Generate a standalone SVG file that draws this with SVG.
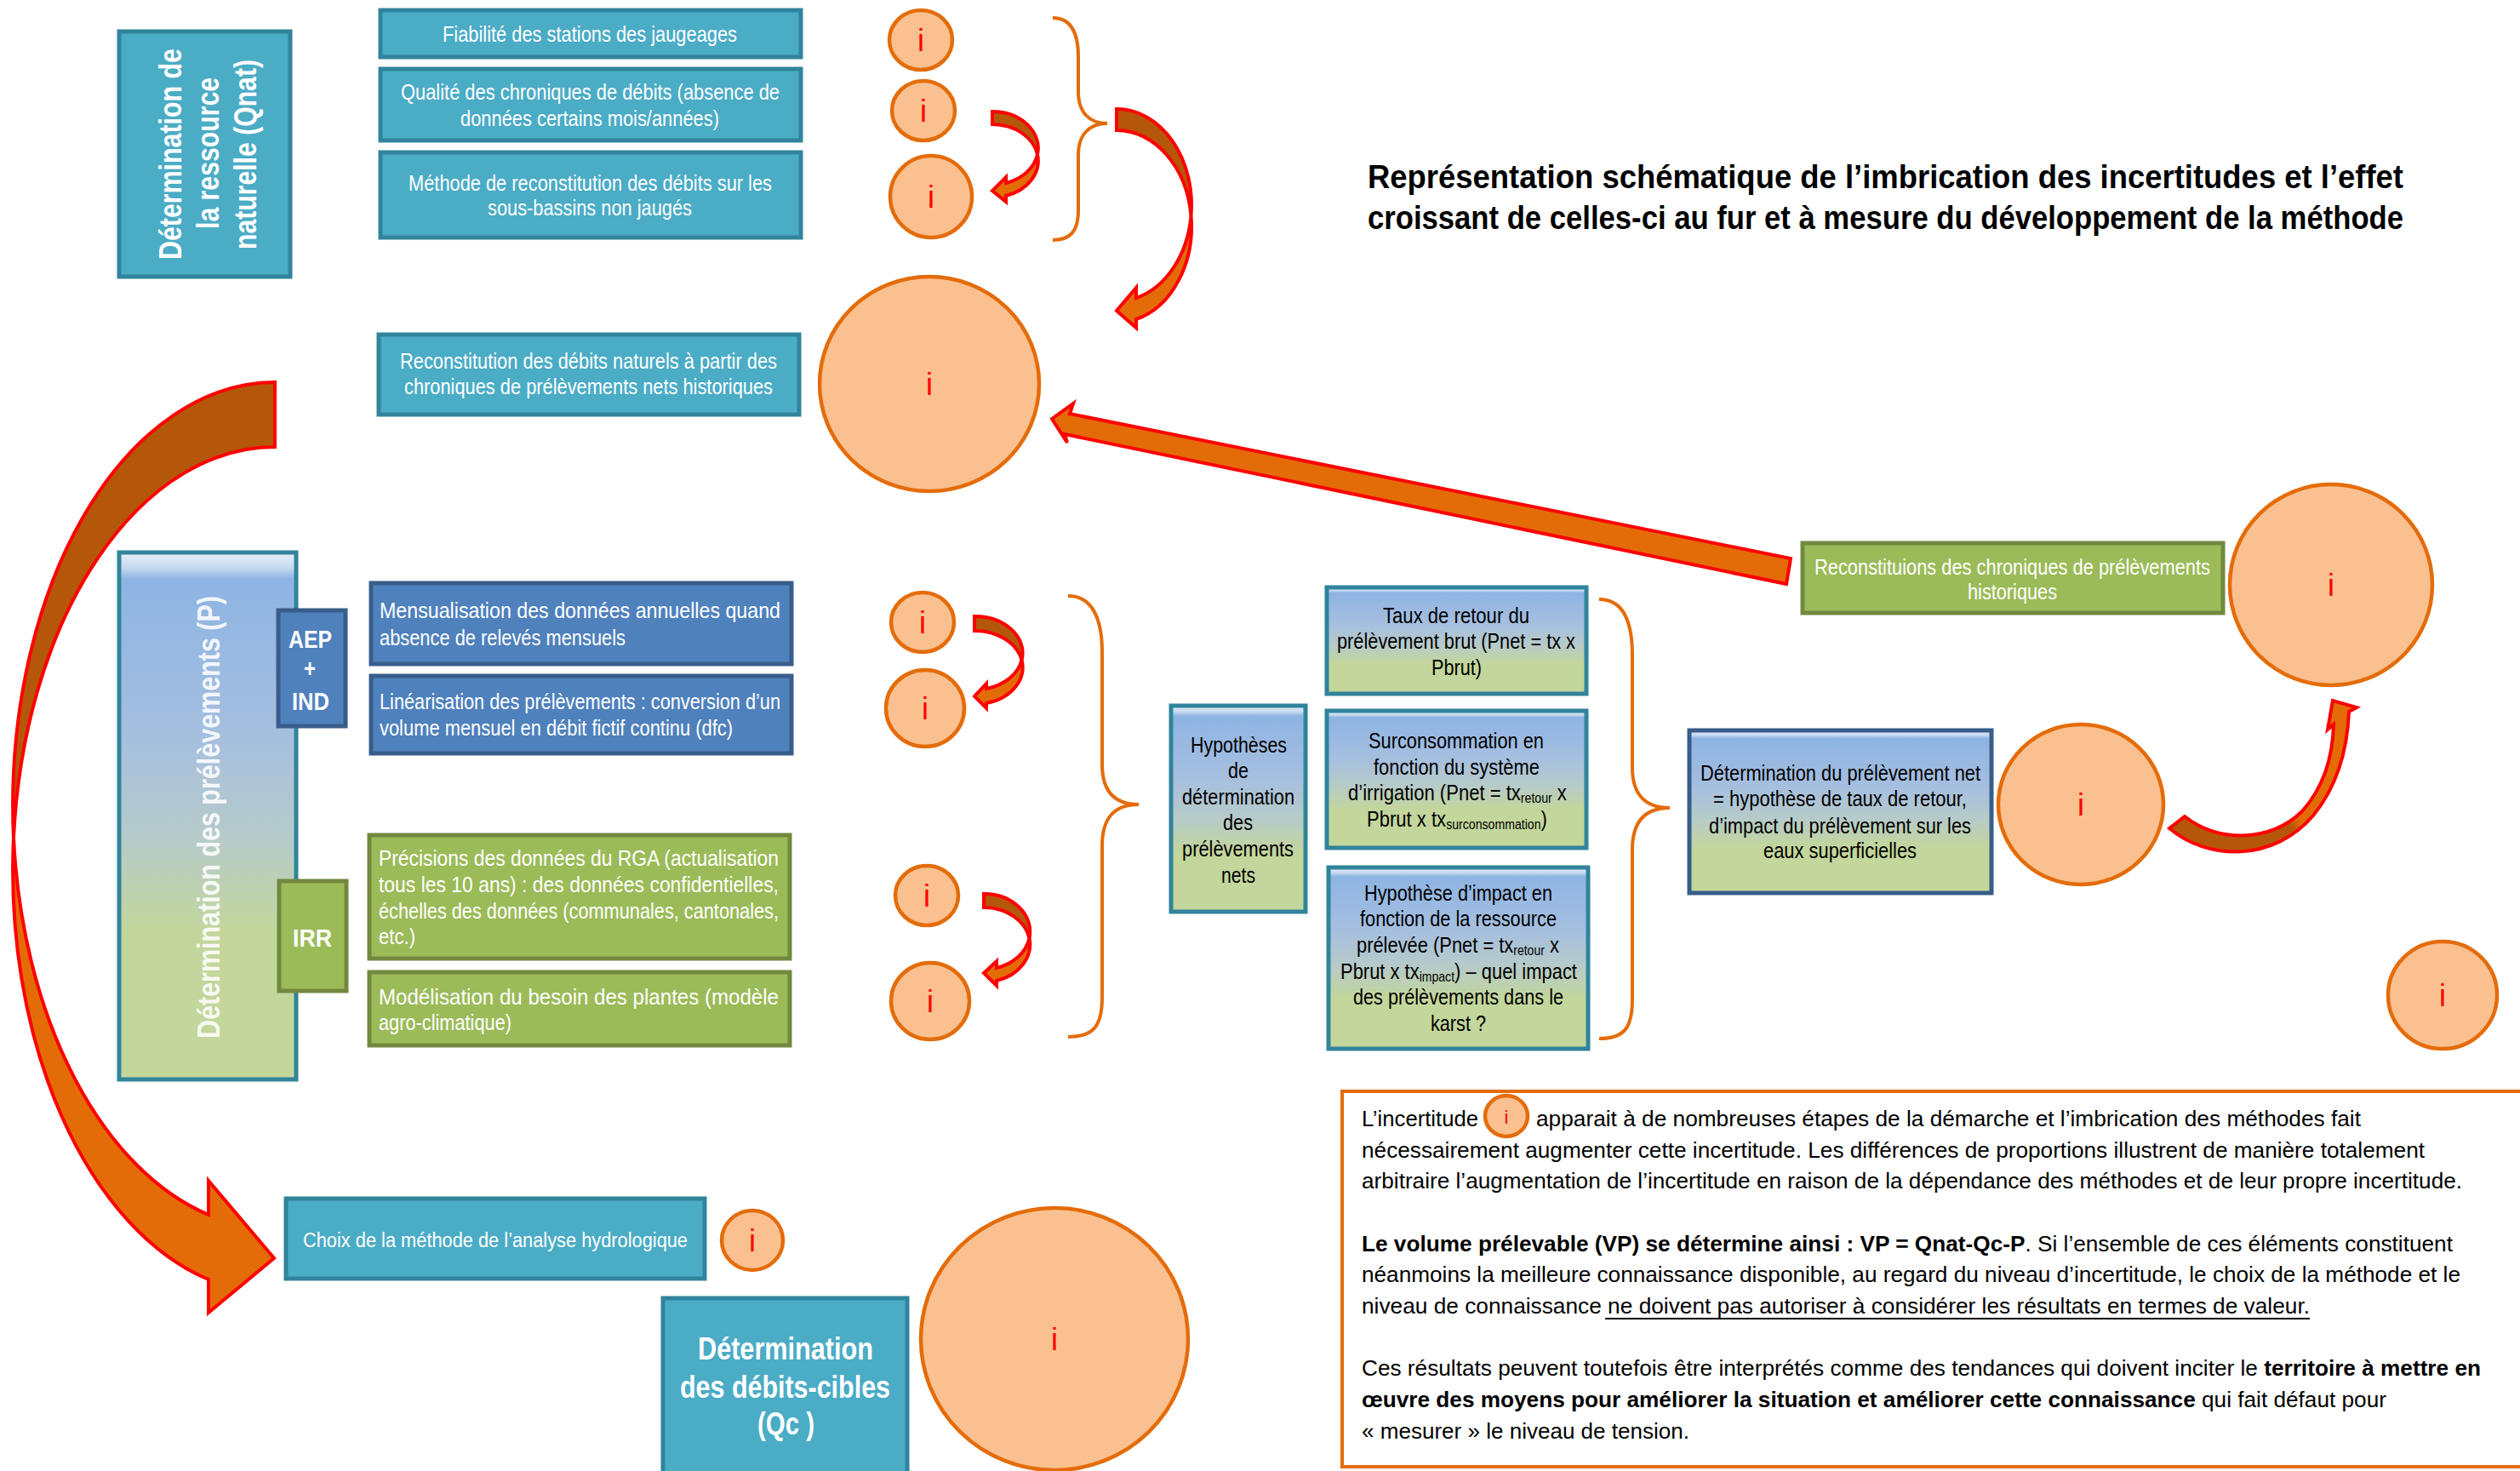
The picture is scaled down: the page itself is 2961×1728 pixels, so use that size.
<svg xmlns="http://www.w3.org/2000/svg" width="2961" height="1728" viewBox="0 0 2961 1728">
<style>
.t{font-family:"Liberation Sans",Arial,sans-serif}
.w{fill:#FFFFFF}
.k{fill:#000000}
.b{font-weight:bold}
.f26{font-size:26px}
.f25{font-size:25px}
.teal{fill:#4BACC6;stroke:#31849B;stroke-width:5}
.blue{fill:#4F81BD;stroke:#385D8A;stroke-width:5}
.green{fill:#9BBB59;stroke:#71893F;stroke-width:5}
.grad{fill:url(#gBG);stroke:#31849B;stroke-width:5}
.gradb{fill:url(#gBG);stroke:#385D8A;stroke-width:5}
.ci{fill:#FAC090;stroke:#E46C0A;stroke-width:4.5}
.ii{font-family:"Liberation Sans",Arial,sans-serif;font-size:36px;fill:#FF0000;text-anchor:middle}
.br{fill:none;stroke:#E46C0A;stroke-width:4}
.ar{stroke:#FF0000;stroke-width:4;stroke-linejoin:miter}
.brn{fill:#B5570A}
.org{fill:#E36C09}
.sub{font-size:16px}
</style>
<defs>
<linearGradient id="gBG" x1="0" y1="0" x2="0" y2="1">
<stop offset="0" stop-color="#E9F0F9"/>
<stop offset="0.03" stop-color="#C5D8F0"/>
<stop offset="0.05" stop-color="#8EB4E3"/>
<stop offset="0.35" stop-color="#A6BFDF"/>
<stop offset="0.55" stop-color="#B7CBC8"/>
<stop offset="0.72" stop-color="#C3D69B"/>
<stop offset="1" stop-color="#C3D69B"/>
</linearGradient>
<linearGradient id="gRA" gradientUnits="userSpaceOnUse" x1="2560" y1="990" x2="2750" y2="850">
<stop offset="0.5" stop-color="#B5570A"/>
<stop offset="0.55" stop-color="#E36C09"/>
</linearGradient>
</defs>
<rect width="2961" height="1728" fill="#FFFFFF"/>

<g id="title" class="t b k" font-size="38">
<text x="1607" y="221" textLength="1217" lengthAdjust="spacingAndGlyphs">Représentation schématique de l’imbrication des incertitudes et l’effet</text>
<text x="1607" y="269" textLength="1217" lengthAdjust="spacingAndGlyphs">croissant de celles-ci au fur et à mesure du développement de la méthode</text>
</g>

<g id="qnat">
<rect class="teal" x="140" y="37" width="201" height="288"/>
<g class="t b w" font-size="37">
<text transform="translate(213,181) rotate(-90)" x="-124" y="0" textLength="248" lengthAdjust="spacingAndGlyphs">Détermination de</text>
<text transform="translate(257,180) rotate(-90)" x="-89" y="0" textLength="178" lengthAdjust="spacingAndGlyphs">la ressource</text>
<text transform="translate(301,181.5) rotate(-90)" x="-111.5" y="0" textLength="223" lengthAdjust="spacingAndGlyphs">naturelle (Qnat)</text>
</g>
</g>

<g id="fiabilite">
<rect class="teal" x="447" y="12" width="494" height="55"/>
<text class="t w f25" x="520" y="49" textLength="346" lengthAdjust="spacingAndGlyphs">Fiabilité des stations des jaugeages</text>
</g>
<g id="qualite">
<rect class="teal" x="447" y="81" width="494" height="84"/>
<text class="t w f25" x="471" y="117" textLength="445" lengthAdjust="spacingAndGlyphs">Qualité des chroniques de débits (absence de</text>
<text class="t w f25" x="541" y="148" textLength="304" lengthAdjust="spacingAndGlyphs">données certains mois/années)</text>
</g>
<g id="methode">
<rect class="teal" x="447" y="179" width="494" height="100"/>
<text class="t w f25" x="480" y="224" textLength="427" lengthAdjust="spacingAndGlyphs">Méthode de reconstitution des débits sur les</text>
<text class="t w f25" x="573" y="253" textLength="240" lengthAdjust="spacingAndGlyphs">sous-bassins non jaugés</text>
</g>
<g id="reconstitution">
<rect class="teal" x="445" y="393" width="494" height="94"/>
<text class="t w f25" x="470" y="433" textLength="443" lengthAdjust="spacingAndGlyphs">Reconstitution des débits naturels à partir des</text>
<text class="t w f25" x="475" y="463" textLength="433" lengthAdjust="spacingAndGlyphs">chroniques de prélèvements nets historiques</text>
</g>

<g id="prelevements">
<rect class="grad" x="140" y="649" width="208" height="619"/>
<text class="t b w" font-size="37" fill-opacity="0.9" transform="translate(258,960) rotate(-90)" x="-260" y="0" textLength="520" lengthAdjust="spacingAndGlyphs">Détermination des prélèvements (P)</text>
</g>
<g id="aep">
<rect class="blue" x="327" y="717" width="79" height="136"/>
<g class="t b w" font-size="29">
<text x="339" y="761" textLength="51" lengthAdjust="spacingAndGlyphs">AEP</text>
<text x="357" y="795" textLength="14" lengthAdjust="spacingAndGlyphs">+</text>
<text x="343" y="834" textLength="44" lengthAdjust="spacingAndGlyphs">IND</text>
</g>
</g>
<g id="irr">
<rect class="green" x="328" y="1035" width="79" height="129"/>
<text class="t b w" font-size="29" x="344" y="1112" textLength="46" lengthAdjust="spacingAndGlyphs">IRR</text>
</g>
<g id="mensualisation">
<rect class="blue" x="436" y="685" width="494" height="95"/>
<text class="t w f25" x="446" y="726" textLength="471" lengthAdjust="spacingAndGlyphs">Mensualisation des données annuelles quand</text>
<text class="t w f25" x="446" y="758" textLength="289" lengthAdjust="spacingAndGlyphs">absence de relevés mensuels</text>
</g>
<g id="linearisation">
<rect class="blue" x="436" y="794" width="494" height="91"/>
<text class="t w f25" x="446" y="833" textLength="471" lengthAdjust="spacingAndGlyphs">Linéarisation des prélèvements : conversion d’un</text>
<text class="t w f25" x="446" y="864" textLength="415" lengthAdjust="spacingAndGlyphs">volume mensuel en débit fictif continu (dfc)</text>
</g>
<g id="precisions">
<rect class="green" x="434" y="981" width="494" height="145"/>
<text class="t w f25" x="445" y="1017" textLength="470" lengthAdjust="spacingAndGlyphs">Précisions des données du RGA (actualisation</text>
<text class="t w f25" x="445" y="1048" textLength="470" lengthAdjust="spacingAndGlyphs">tous les 10 ans) : des données confidentielles,</text>
<text class="t w f25" x="445" y="1079" textLength="470" lengthAdjust="spacingAndGlyphs">échelles des données (communales, cantonales,</text>
<text class="t w f25" x="445" y="1109" textLength="43" lengthAdjust="spacingAndGlyphs">etc.)</text>
</g>
<g id="modelisation">
<rect class="green" x="434" y="1142" width="494" height="86"/>
<text class="t w f25" x="445" y="1180" textLength="470" lengthAdjust="spacingAndGlyphs">Modélisation du besoin des plantes (modèle</text>
<text class="t w f25" x="445" y="1210" textLength="156" lengthAdjust="spacingAndGlyphs">agro-climatique)</text>
</g>

<g id="hypotheses">
<rect class="grad" x="1376" y="829" width="158" height="242"/>
<g class="t k f25">
<text x="1399" y="884" textLength="113" lengthAdjust="spacingAndGlyphs">Hypothèses</text>
<text x="1443" y="914" textLength="24" lengthAdjust="spacingAndGlyphs">de</text>
<text x="1389" y="945" textLength="132" lengthAdjust="spacingAndGlyphs">détermination</text>
<text x="1437" y="975" textLength="35" lengthAdjust="spacingAndGlyphs">des</text>
<text x="1389" y="1006" textLength="131" lengthAdjust="spacingAndGlyphs">prélèvements</text>
<text x="1435" y="1037" textLength="40" lengthAdjust="spacingAndGlyphs">nets</text>
</g>
</g>
<g id="taux">
<rect class="grad" x="1559" y="690" width="305" height="125"/>
<g class="t k f25">
<text x="1625" y="732" textLength="172" lengthAdjust="spacingAndGlyphs">Taux de retour du</text>
<text x="1571" y="762" textLength="280" lengthAdjust="spacingAndGlyphs">prélèvement brut (Pnet = tx x</text>
<text x="1682" y="793" textLength="59" lengthAdjust="spacingAndGlyphs">Pbrut)</text>
</g>
</g>
<g id="surconsommation">
<rect class="grad" x="1559" y="835" width="305" height="161"/>
<g class="t k f25">
<text x="1608" y="879" textLength="206" lengthAdjust="spacingAndGlyphs">Surconsommation en</text>
<text x="1614" y="910" textLength="195" lengthAdjust="spacingAndGlyphs">fonction du système</text>
<text transform="translate(1584,940) scale(0.8826,1)" x="0" y="0">d’irrigation (Pnet = tx<tspan class="sub" dy="3">retour</tspan><tspan dy="-3"> x</tspan></text>
<text transform="translate(1606,971) scale(0.8826,1)" x="0" y="0">Pbrut x tx<tspan class="sub" dy="3">surconsommation</tspan><tspan dy="-3">)</tspan></text>
</g>
</g>
<g id="impact">
<rect class="grad" x="1561" y="1019" width="305" height="213"/>
<g class="t k f25">
<text x="1603" y="1058" textLength="221" lengthAdjust="spacingAndGlyphs">Hypothèse d’impact en</text>
<text x="1598" y="1088" textLength="231" lengthAdjust="spacingAndGlyphs">fonction de la ressource</text>
<text transform="translate(1594,1119) scale(0.8757,1)" x="0" y="0">prélevée (Pnet = tx<tspan class="sub" dy="3">retour</tspan><tspan dy="-3"> x</tspan></text>
<text transform="translate(1575,1150) scale(0.878,1)" x="0" y="0">Pbrut x tx<tspan class="sub" dy="3">impact</tspan><tspan dy="-3">) – quel impact</tspan></text>
<text x="1590" y="1180" textLength="247" lengthAdjust="spacingAndGlyphs">des prélèvements dans le</text>
<text x="1681" y="1211" textLength="65" lengthAdjust="spacingAndGlyphs">karst ?</text>
</g>
</g>
<g id="reconstituions">
<rect class="green" x="2118" y="638" width="494" height="82"/>
<text class="t w f25" x="2132" y="675" textLength="465" lengthAdjust="spacingAndGlyphs">Reconstituions des chroniques de prélèvements</text>
<text class="t w f25" x="2312" y="704" textLength="105" lengthAdjust="spacingAndGlyphs">historiques</text>
</g>
<g id="prelevement-net">
<rect class="gradb" x="1985" y="858" width="355" height="191"/>
<g class="t k f25">
<text x="1998" y="917" textLength="329" lengthAdjust="spacingAndGlyphs">Détermination du prélèvement net</text>
<text x="2013" y="947" textLength="298" lengthAdjust="spacingAndGlyphs">= hypothèse de taux de retour,</text>
<text x="2008" y="979" textLength="308" lengthAdjust="spacingAndGlyphs">d’impact du prélèvement sur les</text>
<text x="2072" y="1008" textLength="180" lengthAdjust="spacingAndGlyphs">eaux superficielles</text>
</g>
</g>
<g id="choix">
<rect class="teal" x="336" y="1408" width="492" height="94"/>
<text class="t w" font-size="23.5" x="356" y="1465" textLength="452" lengthAdjust="spacingAndGlyphs">Choix de la méthode de l’analyse hydrologique</text>
</g>
<g id="qc">
<rect class="teal" x="779" y="1525" width="287" height="215"/>
<g class="t b w" font-size="36">
<text x="820" y="1597" textLength="206" lengthAdjust="spacingAndGlyphs">Détermination</text>
<text x="799" y="1642" textLength="247" lengthAdjust="spacingAndGlyphs">des débits-cibles</text>
<text x="890" y="1685" textLength="67" lengthAdjust="spacingAndGlyphs">(Qc )</text>
</g>
</g>

<g id="incertitudes">
<g id="i1"><ellipse class="ci" cx="1082" cy="47" rx="37" ry="35"/><text class="ii" x="1082" y="60">i</text></g>
<g id="i2"><ellipse class="ci" cx="1085" cy="130" rx="37" ry="35"/><text class="ii" x="1085" y="143">i</text></g>
<g id="i3"><ellipse class="ci" cx="1094" cy="231" rx="48" ry="48"/><text class="ii" x="1094" y="244">i</text></g>
<g id="i4"><ellipse class="ci" cx="1092" cy="451" rx="129" ry="126"/><text class="ii" x="1092" y="464">i</text></g>
<g id="i5"><ellipse class="ci" cx="1084" cy="731" rx="37" ry="35"/><text class="ii" x="1084" y="744">i</text></g>
<g id="i6"><ellipse class="ci" cx="1087" cy="832" rx="46" ry="45"/><text class="ii" x="1087" y="845">i</text></g>
<g id="i7"><ellipse class="ci" cx="1089" cy="1052" rx="37" ry="35"/><text class="ii" x="1089" y="1065">i</text></g>
<g id="i8"><ellipse class="ci" cx="1093" cy="1176" rx="46" ry="45"/><text class="ii" x="1093" y="1189">i</text></g>
<g id="i9"><ellipse class="ci" cx="2739" cy="687" rx="119" ry="118"/><text class="ii" x="2739" y="700">i</text></g>
<g id="i10"><ellipse class="ci" cx="2445" cy="945" rx="97" ry="94"/><text class="ii" x="2445" y="958">i</text></g>
<g id="i11"><ellipse class="ci" cx="2870" cy="1169" rx="64" ry="63"/><text class="ii" x="2870" y="1182">i</text></g>
<g id="i12"><ellipse class="ci" cx="884" cy="1457" rx="36" ry="35"/><text class="ii" x="884" y="1470">i</text></g>
<g id="i13"><ellipse class="ci" cx="1239" cy="1573" rx="157" ry="154"/><text class="ii" x="1239" y="1586">i</text></g>
</g>

<g id="note">
<rect x="1577" y="1282" width="1400" height="441" fill="#FFFFFF" stroke="#E46C0A" stroke-width="4"/>
<g class="t k f26">
<text x="1600" y="1323" textLength="137" lengthAdjust="spacingAndGlyphs">L’incertitude</text>
<text x="1805" y="1323" textLength="969" lengthAdjust="spacingAndGlyphs">apparait à de nombreuses étapes de la démarche et l’imbrication des méthodes fait</text>
<text x="1600" y="1360" textLength="1249" lengthAdjust="spacingAndGlyphs">nécessairement augmenter cette incertitude. Les différences de proportions illustrent de manière totalement</text>
<text x="1600" y="1396" textLength="1293" lengthAdjust="spacingAndGlyphs">arbitraire l’augmentation de l’incertitude en raison de la dépendance des méthodes et de leur propre incertitude.</text>
<text x="1600" y="1470" textLength="1282" lengthAdjust="spacingAndGlyphs"><tspan font-weight="bold">Le volume prélevable (VP) se détermine ainsi : VP = Qnat-Qc-P</tspan>. Si l’ensemble de ces éléments constituent</text>
<text x="1600" y="1506" textLength="1291" lengthAdjust="spacingAndGlyphs">néanmoins la meilleure connaissance disponible, au regard du niveau d’incertitude, le choix de la méthode et le</text>
<text x="1600" y="1543" textLength="1114" lengthAdjust="spacingAndGlyphs">niveau de connaissance ne doivent pas autoriser à considérer les résultats en termes de valeur.</text>
<text x="1600" y="1616" textLength="1315" lengthAdjust="spacingAndGlyphs">Ces résultats peuvent toutefois être interprétés comme des tendances qui doivent inciter le <tspan font-weight="bold">territoire à mettre en</tspan></text>
<text x="1600" y="1653" textLength="1204" lengthAdjust="spacingAndGlyphs"><tspan font-weight="bold">œuvre des moyens pour améliorer la situation et améliorer cette connaissance</tspan> qui fait défaut pour</text>
<text x="1600" y="1690" textLength="385" lengthAdjust="spacingAndGlyphs">« mesurer » le niveau de tension.</text>
</g>
<line x1="1886" y1="1549" x2="2714" y2="1549" stroke="#000000" stroke-width="2"/>
<ellipse class="ci" cx="1770" cy="1311" rx="25" ry="24" stroke-width="3"/>
<text class="ii" x="1770" y="1320" style="font-size:22px">i</text>
</g>

<g id="connectors">
<path class="br" d="M1237,21 C1259,21 1267,40 1267,67 L1267,108 C1267,132 1280,145 1301,145 C1280,145 1267,158 1267,182 L1267,247 C1267,270 1259,282 1237,282"/>
<path class="br" d="M1255,700 C1285,700 1295,730 1295,766 L1295,898 C1295,930 1310,945 1338,945 C1310,945 1295,960 1295,994 L1295,1172 C1295,1205 1285,1218 1255,1218"/>
<path class="br" d="M1879,704 C1909,704 1918,734 1918,770 L1918,902 C1918,934 1934,949 1962,949 C1934,949 1918,964 1918,998 L1918,1174 C1918,1207 1909,1220 1879,1220"/>

<g id="arrow-top-small">
<path class="ar brn" d="M1166,131 A54,43 0 0 1 1219,181.5 A54,43 0 0 0 1166,146 Z"/>
<path class="ar org" d="M1219,181.5 A54,43 0 0 1 1182,230 L1182,237 L1166,224 L1182,208 L1182,215 A54,43 0 0 0 1219,181.5 Z"/>
</g>
<g id="arrow-top-large">
<path class="ar brn" d="M1312,128 A88,113 0 0 1 1399.5,253.5 A88,113 0 0 0 1312,153 Z"/>
<path class="ar org" d="M1399.5,253.5 A88,113 0 0 1 1335,375 L1335,385 L1312,365 L1335,338 L1335,350 A88,113 0 0 0 1399.5,253.5 Z"/>
</g>
<g id="arrow-mid-a">
<path class="ar brn" d="M1145,724 A56,43.2 0 0 1 1200.5,775.5 A56,43.2 0 0 0 1145,741 Z"/>
<path class="ar org" d="M1200.5,775.5 A56,43.2 0 0 1 1159,826 L1159,832 L1145,818 L1159,803 L1159,809 A56,43.2 0 0 0 1200.5,775.5 Z"/>
</g>
<g id="arrow-mid-b">
<path class="ar brn" d="M1156,1050 A54,44.4 0 0 1 1209.5,1102 A54,44.4 0 0 0 1156,1066 Z"/>
<path class="ar org" d="M1209.5,1102 A54,44.4 0 0 1 1171,1152 L1171,1158 L1156,1143 L1171,1129 L1171,1137 A54,44.4 0 0 0 1209.5,1102 Z"/>
</g>
<g id="arrow-left-big">
<path class="ar brn" d="M323,449 A308,497 0 0 0 16,984 A308,497 0 0 1 323,525 Z"/>
<path class="ar org" d="M16,984 A308,497 0 0 0 245,1503 L245,1542 L322,1478 L245,1387 L245,1427 A308,497 0 0 1 16,984 Z"/>
</g>
<path id="arrow-straight" class="ar org" d="M1236,492 L1261,474 L1257,486 L2104,656 L2099,686 L1251,510 L1254,520 Z"/>
<path id="arrow-right" class="ar" fill="url(#gRA)" d="M2549,973 C2595,1012 2672,1012 2718,958 C2745,925 2758,885 2760,836 L2769,831 L2741,823 L2735,857 L2742,851 C2741,890 2730,925 2705,953 C2668,990 2605,990 2567,959 Z"/>
</g>
</svg>
